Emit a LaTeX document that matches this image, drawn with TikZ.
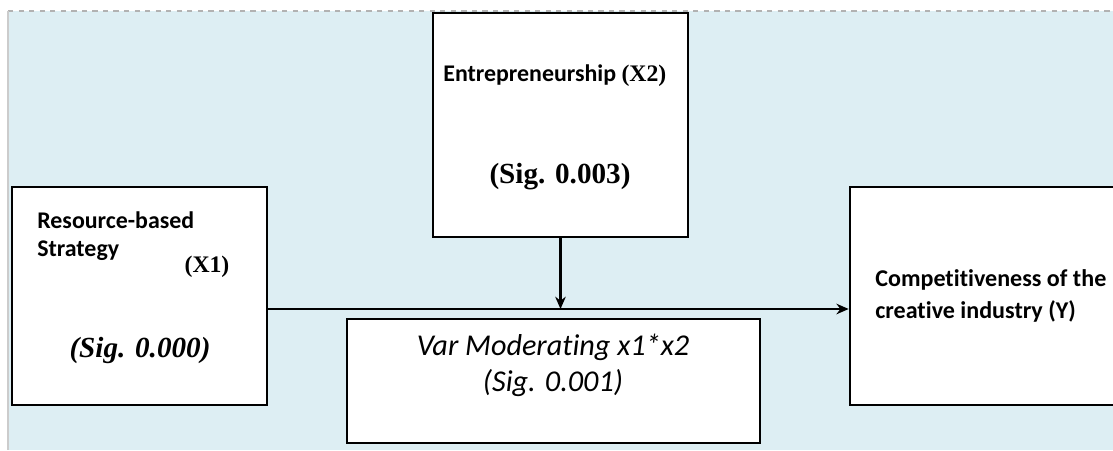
\documentclass[tikz,border=0pt]{standalone}
\usepackage{fontspec}
\setmainfont{Carlito}[Ligatures=NoCommon]
\newfontfamily\timesfont{Liberation Serif}
\usetikzlibrary{arrows.meta}

\definecolor{panelblue}{RGB}{221,238,243}
\tikzset{
  box/.style={draw=black, line width=1.5pt, fill=white, inner sep=0pt},
  arr/.style={line width=1.3pt, -{Stealth[length=7pt,width=6pt]}},
  lbl/.style={font=\fontsize{13.6}{16}\selectfont\bfseries, inner sep=0pt},
  sig/.style={font=\timesfont\bfseries\fontsize{16.6}{18}\selectfont, inner sep=0pt},
  tag/.style={font=\timesfont\bfseries\fontsize{13.5}{16}\selectfont, inner sep=0pt}
}

\begin{document}
\begin{tikzpicture}[x=0.02cm,y=-0.02cm]
 \useasboundingbox (0,0) rectangle (1113,450);
 \clip (0,0) rectangle (1113,450);

% panel behind the model
 \fill[panelblue] (8,11) rectangle (1113,450);
 \draw[gray!60, dashed, line width=0.8pt] (8,11) -- (1113,11);
 \draw[gray!40, line width=0.6pt] (8,11) -- (8,450);

% the four blocks
 \node[box, minimum width=5.1cm, minimum height=4.36cm] (x1box) at (139.5,296) {};
 \node[box, minimum width=5.1cm, minimum height=4.48cm] (x2box) at (560.5,125) {};
 \node[box, minimum width=8.26cm, minimum height=2.48cm] (modbox) at (553.5,381) {};
 \node[box, minimum width=5.8cm, minimum height=4.36cm] (ybox) at (995,296) {};

% X1 texts
 \node[lbl, anchor=west, align=left] (x1name) at (37,236) {Resource-based\\Strategy};
 \node[tag] (x1tag) at (207,267) {(X1)};
 \node[sig, font=\timesfont\bfseries\itshape\fontsize{16.6}{18}\selectfont] (x1sig) at (140,350) {(Sig. 0.000)};

% X2 texts
 \node[lbl, anchor=west] (x2name) at (443,76) {Entrepreneurship {\timesfont\fontsize{13.5}{16}\selectfont (X2)}};
 \node[sig] (x2sig) at (560,177) {(Sig. 0.003)};

% moderating term
 \node[font=\itshape\fontsize{17.2}{20.5}\selectfont, align=center, inner sep=0pt] (modtext) at (553,365) {Var Moderating x1*x2\\(Sig. 0.001)};

% dependent variable
 \node[lbl, anchor=west, align=left, font=\fontsize{13.7}{18.7}\selectfont\bfseries] (yname) at (875,296) {Competitiveness of the\\creative industry (Y)};

% paths
 \coordinate (join) at (560.5,309);
 \draw[arr] (x1box.east |- join) -- (ybox.west |- join); % X1 to Y
 \draw[arr] (x2box.south) -- (join); % X2 onto the path

\end{tikzpicture}
\end{document}
